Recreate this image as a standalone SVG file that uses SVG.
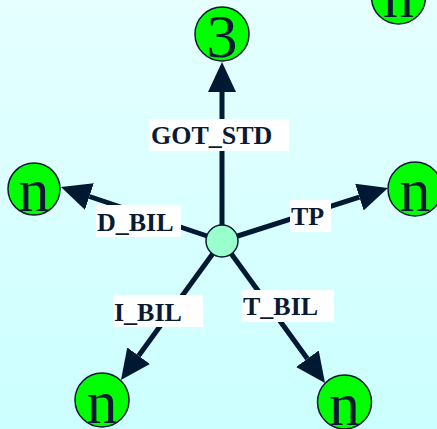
<svg xmlns="http://www.w3.org/2000/svg" width="437" height="429" viewBox="0 0 437 429">
  <style>
    .node circle { fill: #00ff00; stroke: #0a1a33; stroke-width: 1.5; }
    .node text { font-family: "Liberation Serif", serif; font-size: 62px; fill: #0a1a33; text-anchor: middle; }
    .edge line { stroke: #001933; stroke-width: 5; }
    .lbl rect { fill: #ffffff; }
    .lbl text { font-family: "Liberation Serif", serif; font-weight: bold; font-size: 26px; fill: #0a1a33; }
  </style>
  <defs>
    <linearGradient id="bg" x1="0" y1="0" x2="0" y2="1">
      <stop offset="0" stop-color="#e6ffff"/>
      <stop offset="1" stop-color="#ccffff"/>
    </linearGradient>
    <marker id="arrow" markerUnits="userSpaceOnUse" viewBox="0 0 30 28" refX="0" refY="14" markerWidth="30" markerHeight="28" orient="auto">
      <path d="M0,0 L30,14 L0,28 z" fill="#001933"/>
    </marker>
  </defs>

  <rect width="437" height="429" fill="url(#bg)"/>

  <!-- connectors from the hub -->
  <g id="edges" class="edge">
    <line x1="222" y1="241" x2="222" y2="92" marker-end="url(#arrow)"/>
    <line x1="222" y1="241" x2="89.4" y2="196.5" marker-end="url(#arrow)"/>
    <line x1="222" y1="241" x2="359.4" y2="197.1" marker-end="url(#arrow)"/>
    <line x1="222" y1="241" x2="138.6" y2="355.7" marker-end="url(#arrow)"/>
    <line x1="222" y1="241" x2="307.4" y2="358.7" marker-end="url(#arrow)"/>
  </g>

  <!-- edge labels -->
  <g id="labels" class="lbl">
    <g id="lbl-got-std"><rect x="149" y="119" width="140" height="32"/><text x="151" y="144">GOT_STD</text></g>
    <g id="lbl-d-bil"><rect x="96" y="205" width="85" height="32"/><text x="97" y="231">D_BIL</text></g>
    <g id="lbl-tp"><rect x="290" y="200" width="41" height="32"/><text x="291" y="225">TP</text></g>
    <g id="lbl-i-bil"><rect x="113" y="295" width="90" height="32"/><text x="114" y="321">I_BIL</text></g>
    <g id="lbl-t-bil"><rect x="242" y="290" width="92" height="32"/><text x="243" y="315">T_BIL</text></g>
  </g>

  <!-- nodes -->
  <g id="hub"><circle cx="222" cy="241" r="16" fill="#99ffcc" stroke="#0a1a33" stroke-width="1.5"/></g>
  <g id="n-3" class="node"><circle cx="222" cy="34" r="27"/><text x="222" y="57">3</text></g>
  <g id="n-topright" class="node"><circle cx="398.5" cy="-3" r="27"/><text x="398.5" y="17">n</text></g>
  <g id="n-left" class="node"><circle cx="34" cy="189" r="26"/><text x="34" y="211">n</text></g>
  <g id="n-right" class="node"><circle cx="415" cy="189" r="27"/><text x="415" y="211">n</text></g>
  <g id="n-botleft" class="node"><circle cx="102" cy="400" r="27"/><text x="102" y="423">n</text></g>
  <g id="n-botright" class="node"><circle cx="344.5" cy="402" r="27"/><text x="344.5" y="425">n</text></g>
</svg>
